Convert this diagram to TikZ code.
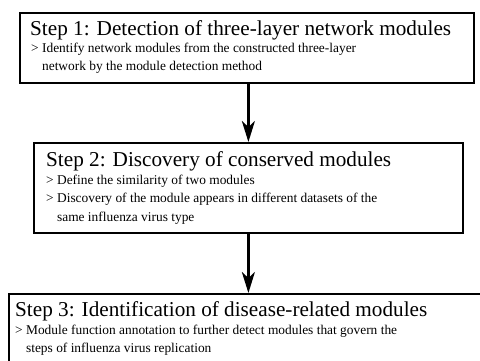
\documentclass[tikz,border=0pt]{standalone}
\usepackage{fontspec}
\setmainfont{Liberation Serif}
\usetikzlibrary{arrows.meta}
\begin{document}
\begin{tikzpicture}[x=1pt,y=-1pt,
  stepbox/.style={draw, line width=1.8pt, rectangle, inner sep=0pt, anchor=north west},
  headline/.style={anchor=base west, inner sep=0pt, font=\fontsize{21.2}{25}\selectfont},
  bodyline/.style={anchor=base west, inner sep=0pt, font=\fontsize{13.4}{16}\selectfont},
  flow/.style={line width=2.6pt, -{Stealth[length=21pt,width=13pt,inset=6pt]}}]
\useasboundingbox (0,0) rectangle (480,360);
\clip (0,0) rectangle (480,360);

% the three step boxes
\node[stepbox, minimum width=454pt, minimum height=70pt] (b1) at (19,12) {};
\node[stepbox, minimum width=429pt, minimum height=90pt] (b2) at (33,142) {};
\node[stepbox, minimum width=500pt, minimum height=100pt] (b3) at (8,293) {};

% step 1
\node[headline] (t1) at (30,35) {Step 1: Detection of three-layer network modules};
\node[bodyline] (t1a) at (31,52.5) {> Identify network modules from the constructed three-layer};
\node[bodyline] (t1b) at (31,70) {\hphantom{> }network by the module detection method};

% step 2
\node[headline] (t2) at (46,166) {Step 2: Discovery of conserved modules};
\node[bodyline] (t2a) at (46,184) {> Define the similarity of two modules};
\node[bodyline] (t2b) at (46,202.5) {> Discovery of the module appears in different datasets of the};
\node[bodyline] (t2c) at (46,221) {\hphantom{> }same influenza virus type};

% step 3
\node[headline] (t3) at (15,316) {Step 3: Identification of disease-related modules};
\node[bodyline] (t3a) at (15,334) {> Module function annotation to further detect modules that govern the};
\node[bodyline] (t3b) at (15,352) {\hphantom{> }steps of influenza virus replication};

% connectors
\draw[flow] (b1.south -| b2.north) -- (b2.north);
\draw[flow] (b2.south) -- (b2.south |- b3.north);
\end{tikzpicture}
\end{document}
